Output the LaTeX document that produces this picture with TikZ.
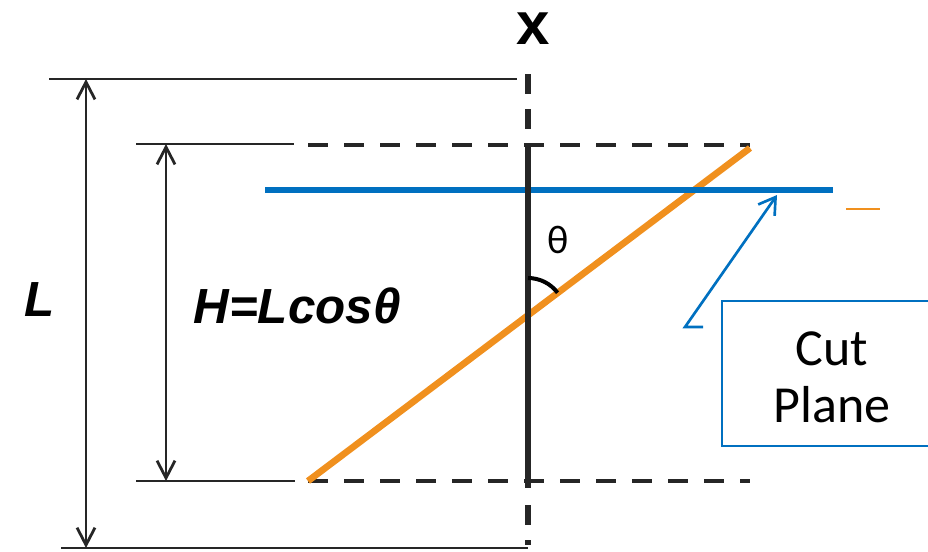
\documentclass[tikz,border=0pt]{standalone}
\usepackage{fontspec}
\setmainfont{Liberation Sans}
\newfontfamily\calibri{Carlito}
\usepackage{xcolor}
\usetikzlibrary{arrows.meta}
\usetikzlibrary{positioning}

\definecolor{planeblue}{HTML}{0070C0}
\definecolor{rodorange}{HTML}{F0901E}
\definecolor{inkgray}{HTML}{262626}

\tikzset{
  dimline/.style={inkgray, line width=2.1pt},
  dimarrow/.style={inkgray, line width=2.1pt,
    {Straight Barb[length=13pt,width=13.5pt]}-{Straight Barb[length=13pt,width=13.5pt]}},
  guide/.style={inkgray, line width=3.6pt, dash pattern=on 15pt off 12pt},
  axisguide/.style={inkgray, line width=3.8pt, dash pattern=on 15pt off 11.25pt},
  callout/.style={planeblue, line width=2pt},
  bigital/.style={font=\bfseries\itshape\fontsize{37}{40}\selectfont},
  cuttext/.style={font=\calibri\fontsize{39}{42}\selectfont, inner sep=0pt},
}

\begin{document}
\begin{tikzpicture}[x=0.75pt, y=-0.75pt]
  \useasboundingbox (0,0) rectangle (928,551);

  % ===== key points =====
  \coordinate (Ltop) at (86,79);
  \coordinate (Lbot) at (86,548);
  \coordinate (Htop) at (166,144);
  \coordinate (Hbot) at (166,481);
  \coordinate (rodlow) at (308,481);
  \coordinate (rodhigh) at (750,148);
  \coordinate (axis) at (528,315);

  % Dimension lines
  \draw[dimline] (49,79) -- (517,79);
  \draw[dimline] (61,548) -- (528,548);
  \draw[dimline] (136,144) -- (294,144);
  \draw[dimline] (136,481) -- (295,481);

  % Dimension arrows
  \draw[dimarrow] (Ltop) -- (Lbot);
  \draw[dimarrow] (Htop) -- (Hbot);

  % Dashed guides at the ends of the rod
  \draw[guide] (308,145) -- (750,145);
  \draw[guide] (308,481) -- (750,481);

  % x axis, dashed outside the rod
  \draw[axisguide] (528,74) -- (528,143);
  \draw[axisguide] (528,505) -- (528,545);

  % Rod
  \draw[rodorange, line width=5pt] (rodlow) -- (rodhigh);

  % Cut plane
  \draw[planeblue, line width=5.2pt] (265,190) coordinate (cutleft) -- (833,190) coordinate (cutright);

  % Projection of the rod on the axis
  \draw[inkgray, line width=5.2pt] (528,143) -- (528,488);

  % Angle theta
  \draw[black, line width=3pt] (528,278) arc[start angle=-90, end angle=-37, radius=37];
  \node[font=\calibri\fontsize{30}{32}\selectfont] (theta) at (558,240) {θ};

  % Labels
  \node[font=\bfseries\fontsize{45}{45}\selectfont, inner sep=0pt] (xlabel) at (533,29) {x};
  \node[bigital] (Llabel) at (40,300) {L};
  \node[bigital, anchor=base] (Hlabel) at (297,323) {H=Lcosθ};

  % Callout box
  \draw[callout] (722,301) rectangle (940,446);
  \node[cuttext, anchor=base] (cut) at (832,365) {Cut};
  \node[cuttext, anchor=base] (plane) at (832,422) {Plane};

  % Callout arrow
  \coordinate (calltail) at (685,327);
  \coordinate (calltip) at (777,195);
  \draw[callout, -{Straight Barb[length=12pt,width=15pt]}] (703,327) -- (calltail) -- (calltip);

  % small orange mark
  \draw[rodorange, line width=1.8pt] (846,209) -- (880,209);
\end{tikzpicture}
\end{document}
